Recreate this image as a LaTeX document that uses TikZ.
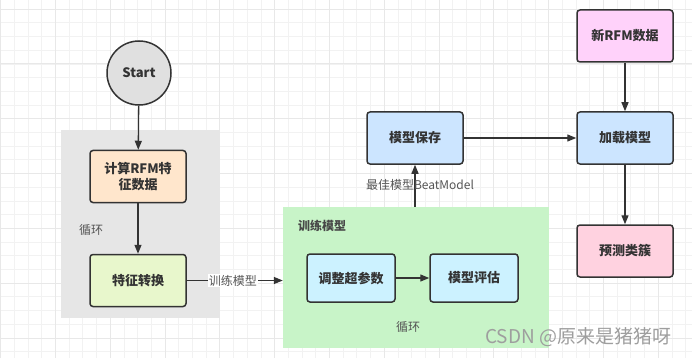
\documentclass[tikz,border=0pt]{standalone}
\usepackage{fontspec}
\setmainfont{Noto Sans CJK SC}
\usetikzlibrary{arrows.meta}
\definecolor{edge}{HTML}{333333}
\definecolor{grayreg}{HTML}{E6E6E6}
\definecolor{greenreg}{HTML}{C8F4C8}
\definecolor{peach}{HTML}{FFE6CC}
\definecolor{lime}{HTML}{E8F7CC}
\definecolor{cyanbox}{HTML}{CCF2FF}
\definecolor{bluebox}{HTML}{CCE5FF}
\definecolor{violet}{HTML}{FFD2FA}
\definecolor{rosebox}{HTML}{FFD2E0}
\definecolor{labgray}{HTML}{555555}
\tikzset{
  stepbox/.style={draw=edge, line width=1.5pt, rounded corners=3pt, minimum width=96pt, minimum height=52pt, align=center, font=\fontsize{13}{16}\selectfont\bfseries, text=edge, inner sep=0pt},
  smallbox/.style={stepbox, minimum width=88pt, minimum height=48pt},
  flow/.style={draw=edge, line width=1.3pt, -{Triangle[length=9pt,width=7pt]}},
  lab/.style={font=\fontsize{12}{14}\selectfont, text=labgray, inner sep=1pt},
}
\begin{document}
\begin{tikzpicture}[x=1pt,y=-1pt]
\useasboundingbox (0,0) rectangle (692,358);
\fill[white] (0,0) rectangle (692,358);
% grid
\foreach \i in {0,...,50} {
  \draw[color=black!5, line width=0.5pt] (0.5+13.7*\i,0) -- (0.5+13.7*\i,358);
}
\foreach \j in {0,...,27} {
  \draw[color=black!5, line width=0.5pt] (0,9+13.7*\j) -- (692,9+13.7*\j);
}
\foreach \i in {0,...,12} {
  \draw[color=black!9, line width=0.6pt] (0.5+54.8*\i,0) -- (0.5+54.8*\i,358);
}
\foreach \j in {0,...,6} {
  \draw[color=black!9, line width=0.6pt] (0,9+54.8*\j) -- (692,9+54.8*\j);
}
% regions
\node[fill=grayreg, minimum width=159pt, minimum height=188pt, inner sep=0pt] (greg) at (140.5,224) {};
\node[fill=greenreg, minimum width=266pt, minimum height=141pt, inner sep=0pt] (train) at (416,277.5) {};
\node[lab, anchor=west] (loop1) at (78,230) {循环};
\node[lab, anchor=west, text=edge!90, font=\fontsize{12}{14}\selectfont\bfseries] (trainlab) at (297,226) {训练模型};
\node[lab] (loop2) at (408,327) {循环};
% nodes
\node[circle, draw=edge, line width=1.5pt, fill=black!12, minimum size=64pt, inner sep=0pt, font=\fontsize{13}{15}\selectfont\bfseries, text=edge] (start) at (139,73) {Start};
\node[stepbox, fill=peach] (calc) at (138,176.5) {计算RFM特\\征数据};
\node[stepbox, fill=lime] (feat) at (138,280.5) {特征转换};
\node[smallbox, fill=cyanbox] (tune) at (351,278) {调整超参数};
\node[smallbox, fill=cyanbox] (eval) at (474,278) {模型评估};
\node[stepbox, fill=bluebox] (save) at (415,138) {模型保存};
\node[stepbox, fill=violet] (newd) at (625,36) {新RFM数据};
\node[stepbox, fill=bluebox] (load) at (625,138) {加载模型};
\node[stepbox, fill=rosebox] (pred) at (625,251) {预测类簇};
% edges
\draw[flow] (start) -- (calc);
\draw[flow] (calc) -- (feat);
\draw[flow] (feat.east) -- node[lab, fill=white, pos=0.48] {训练模型} (train.west |- feat.east);
\draw[flow] (tune) -- (eval);
\draw[flow] (save.south |- train.north) -- (save.south);
\node[lab] (bestlab) at (420,185) {最佳模型BeatModel};
\draw[flow] (save) -- (load);
\draw[flow] (newd) -- (load);
\draw[flow] (load) -- (pred);
% watermark
\node[font=\fontsize{19}{21}\selectfont, text=black!38, anchor=west, inner sep=0pt] (wm) at (485,337) {CSDN @原来是猪猪呀};
\end{tikzpicture}
\end{document}
